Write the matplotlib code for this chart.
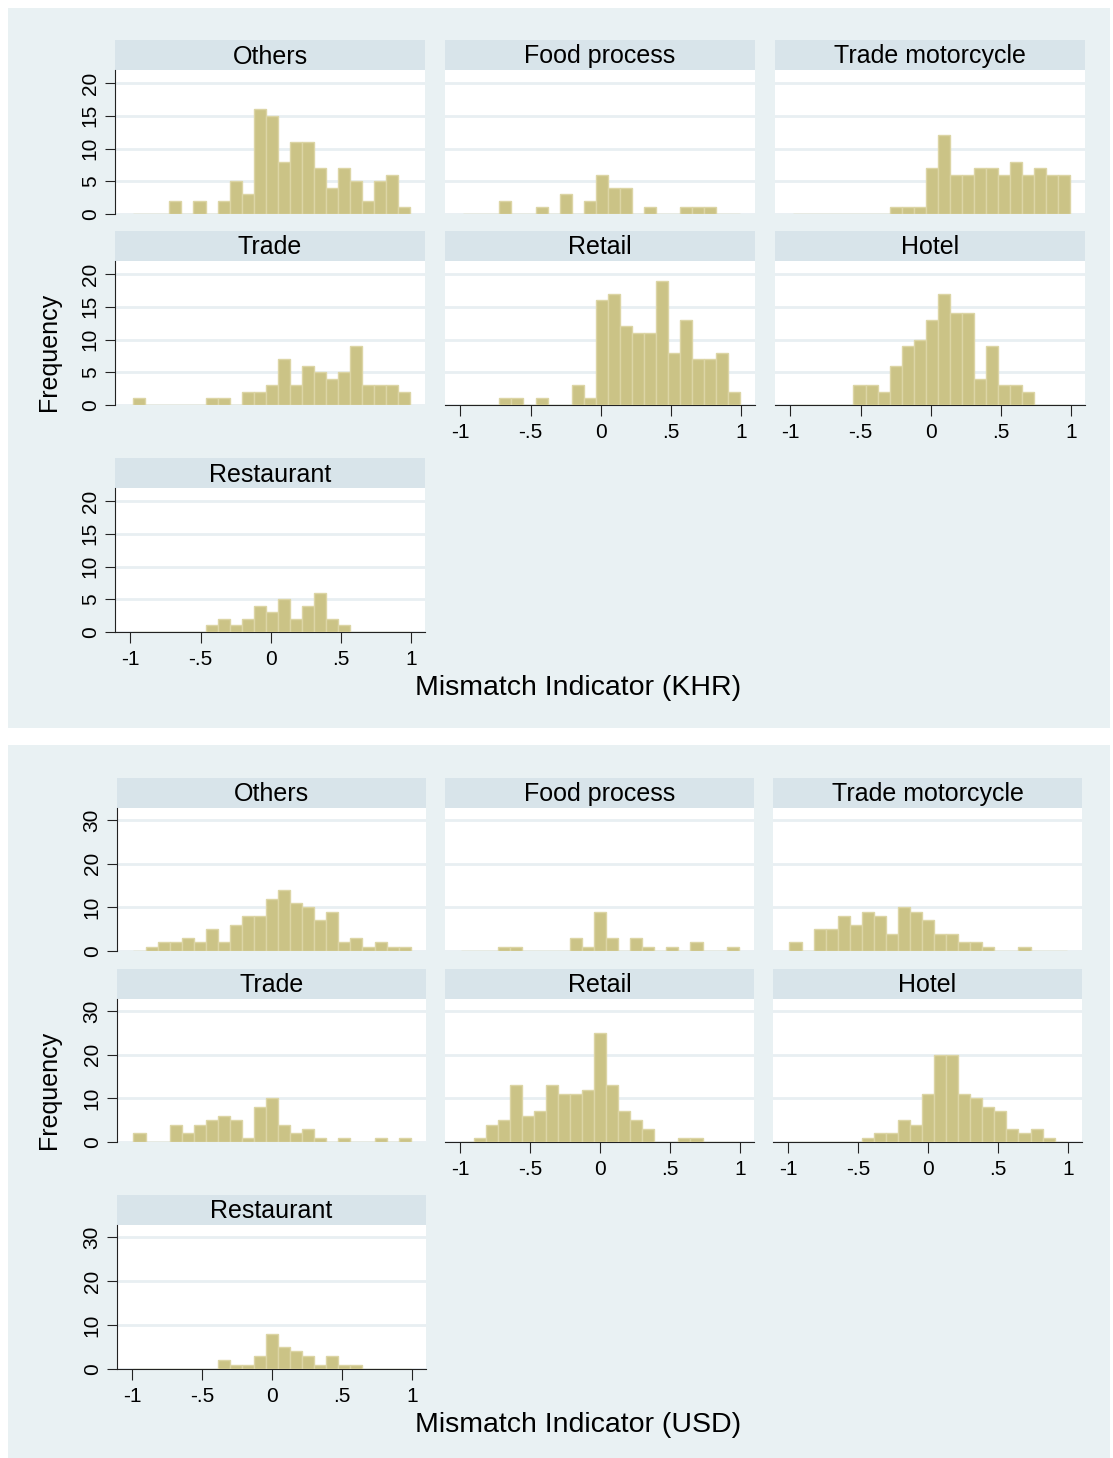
import numpy as np
import matplotlib
matplotlib.use("Agg")
import matplotlib.pyplot as plt

plt.rcParams['font.family'] = ['Liberation Sans', 'DejaVu Sans']

W, H = 1113, 1458

sectors = ["Others", "Food process", "Trade motorcycle", "Trade",
           "Retail", "Hotel", "Restaurant"]
xtick_vals = [-1, -0.5, 0, 0.5, 1]
xtick_labels = ["-1", "-.5", "0", ".5", "1"]

# mismatch indicator (KHR): 23 common bins
khr_start, khr_width = -0.979, 0.0857
khr_others = [0, 0, 0, 2, 0, 2, 0, 2, 5, 3, 16, 15, 8, 11, 11, 7, 4, 7, 5, 2, 5, 6, 1]
khr_food = [0, 0, 0, 2, 0, 0, 1, 0, 3, 0, 2, 6, 4, 4, 0, 1, 0, 0, 1, 1, 1, 0, 0]
khr_motor = [0, 0, 0, 0, 0, 0, 0, 0, 1, 1, 1, 7, 12, 6, 6, 7, 7, 6, 8, 6, 7, 6, 6]
khr_trade = [1, 0, 0, 0, 0, 0, 1, 1, 0, 2, 2, 3, 7, 3, 6, 5, 4, 5, 9, 3, 3, 3, 2]
khr_retail = [0, 0, 0, 1, 1, 0, 1, 0, 0, 3, 1, 16, 17, 12, 11, 11, 19, 8, 13, 7, 7, 8, 2]
khr_hotel = [0, 0, 0, 0, 0, 3, 3, 2, 6, 9, 10, 13, 17, 14, 14, 4, 9, 3, 3, 2, 0, 0, 0]
khr_rest = [0, 0, 0, 0, 0, 0, 1, 2, 1, 2, 4, 3, 5, 2, 4, 6, 2, 1, 0, 0, 0, 0, 0]
khr_yticks = [0, 5, 10, 15, 20]

# mismatch indicator (USD)
usd_start, usd_width = -0.992, 0.0862
usd_others = [0, 1, 2, 2, 3, 2, 5, 2, 6, 8, 8, 12, 14, 11, 10, 7, 9, 2, 3, 1, 2, 1, 1]
usd_food = [0, 0, 0, 1, 1, 0, 0, 0, 0, 3, 1, 9, 3, 0, 3, 1, 0, 1, 0, 2, 0, 0, 1]
usd_motor = [2, 0, 5, 5, 8, 6, 9, 8, 4, 10, 9, 7, 4, 4, 2, 2, 1, 0, 0, 1, 0, 0, 0]
usd_trade = [2, 0, 0, 4, 2, 4, 5, 6, 5, 1, 8, 10, 4, 2, 3, 1, 0, 1, 0, 0, 1, 0, 1]
usd_retail = [0, 1, 4, 5, 13, 6, 7, 13, 11, 11, 12, 25, 13, 7, 5, 3, 0, 0, 1, 1, 0, 0, 0]
usd_hotel = [0, 0, 0, 0, 0, 0, 1, 2, 2, 5, 4, 11, 20, 20, 11, 10, 8, 7, 3, 2, 3, 1, 0]
usd_rest = [0, 0, 0, 0, 0, 0, 0, 2, 1, 1, 3, 8, 5, 4, 3, 1, 3, 1, 1, 0, 0, 0, 0]
usd_yticks = [0, 10, 20, 30]

BG = '#E9F1F3'
STRIP = '#D8E4EA'
BAR = '#CBC386'
BAR_EDGE = '#DCD5A5'
GRID = '#E8EFF2'


def fig_rect(x0, y0, x1, y1):
    return [x0 / W, 1 - y1 / H, (x1 - x0) / W, (y1 - y0) / H]


fig = plt.figure(figsize=(W / 100, H / 100), dpi=100)
fig.patch.set_facecolor('white')


def draw_graph(box, cols, rows, counts, start, width, ymax, yticks,
               freq_xy, title_xy, xtitle):
    bg = fig.add_axes(fig_rect(*box))
    bg.set_facecolor(BG)
    bg.set_xticks([])
    bg.set_yticks([])
    for s in bg.spines.values():
        s.set_visible(False)

    edges = start + width * np.arange(len(counts[0]) + 1)
    layout = [(0, 0), (0, 1), (0, 2), (1, 0), (1, 1), (1, 2), (2, 0)]
    with_xaxis = ["Retail", "Hotel", "Restaurant"]
    for name, cnt, (r, c) in zip(sectors, counts, layout):
        x0, x1 = cols[c]
        s0, s1, p1 = rows[r]
        st = fig.add_axes(fig_rect(x0, s0, x1, s1))
        st.set_facecolor(STRIP)
        st.set_xticks([])
        st.set_yticks([])
        for s in st.spines.values():
            s.set_visible(False)
        st.text(0.5, 0.45, name, ha='center', va='center', fontsize=18,
                transform=st.transAxes)

        ax = fig.add_axes(fig_rect(x0, s1, x1, p1))
        ax.set_facecolor('white')
        ax.bar(edges[:-1], cnt, width=width, align='edge', color=BAR,
               edgecolor=BAR_EDGE, linewidth=1, zorder=3)
        ax.set_xlim(-1.11, 1.10)
        ax.set_ylim(0, ymax)
        ax.set_yticks(yticks)
        ax.yaxis.grid(True, color=GRID, linewidth=2, zorder=0)
        ax.set_axisbelow(True)
        for s in ax.spines.values():
            s.set_visible(False)
        if c == 0:
            ax.spines['left'].set_visible(True)
            ax.spines['left'].set_color('#222222')
            ax.set_yticklabels([str(t) for t in yticks], rotation=90,
                               va='center', fontsize=15)
            ax.tick_params(axis='y', length=7, pad=4, color='#222222')
        else:
            ax.tick_params(axis='y', left=False, labelleft=False)
        ax.set_xticks(xtick_vals)
        if name in with_xaxis:
            ax.spines['bottom'].set_visible(True)
            ax.spines['bottom'].set_color('#222222')
            ax.set_xticklabels(xtick_labels, fontsize=15)
            ax.tick_params(axis='x', length=8, pad=5, color='#222222')
        else:
            ax.tick_params(axis='x', bottom=False, labelbottom=False)

    fig.text(freq_xy[0] / W, 1 - freq_xy[1] / H, "Frequency", rotation=90,
             ha='center', va='center', fontsize=18)
    fig.text(title_xy[0] / W, 1 - title_xy[1] / H, xtitle,
             ha='center', va='center', fontsize=20.5)


draw_graph((8, 8, 1110, 728),
           [(115, 425), (445, 755), (775, 1085)],
           [(40, 70, 214), (231, 261, 405), (458, 488, 632)],
           [khr_others, khr_food, khr_motor, khr_trade, khr_retail,
            khr_hotel, khr_rest],
           khr_start, khr_width, 22, khr_yticks,
           (49, 352), (578, 688), "Mismatch Indicator (KHR)")

draw_graph((8, 745, 1110, 1458),
           [(117, 426), (445, 754), (773, 1082)],
           [(778, 808, 951), (969, 999, 1142), (1195, 1225, 1369)],
           [usd_others, usd_food, usd_motor, usd_trade, usd_retail,
            usd_hotel, usd_rest],
           usd_start, usd_width, 32.8, usd_yticks,
           (49, 1090), (578, 1425), "Mismatch Indicator (USD)")

fig.savefig("out.png", dpi=100, facecolor='white')
